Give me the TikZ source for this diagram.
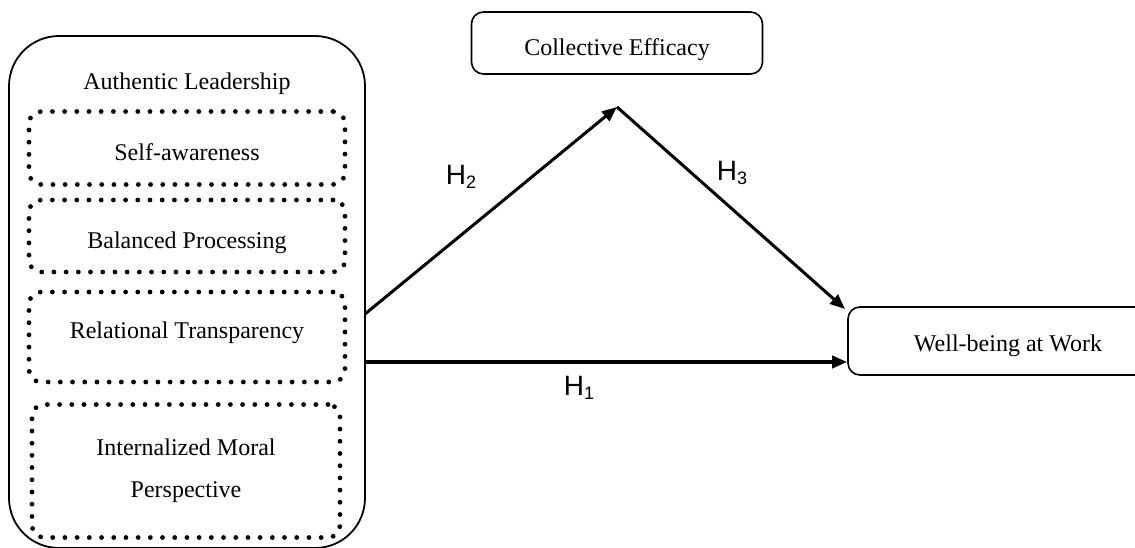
\documentclass[tikz,border=0pt]{standalone}
\usepackage{fontspec}
\setmainfont{Liberation Serif}
\newfontfamily\hfont{Liberation Sans}
\usetikzlibrary{arrows.meta}
\tikzset{
  txt/.style={font=\fontsize{24}{28}\selectfont, text height=30pt, text depth=6pt},
  solidbox/.style={draw, line width=1.6pt, rounded corners=12pt, txt},
  dotbox/.style={draw, line width=4.8pt, line cap=round, dash pattern=on 0pt off 12.2pt, rounded corners=12pt, txt},
  arr/.style={line width=3pt, -{Triangle[length=15pt,width=12pt]}},
  hlab/.style={font=\hfont\fontsize{28}{32}\selectfont, inner sep=0pt}
}
\newcommand{\hsub}[1]{H\raisebox{-4pt}{\fontsize{18}{18}\selectfont #1}}
\begin{document}
\begin{tikzpicture}[x=1pt,y=-1pt]
\useasboundingbox (0,0) rectangle (1135,547);
\begin{scope}
\clip (0,0) rectangle (1135,547);
% outer box
\node[draw, line width=1.8pt, rounded corners=50pt, minimum width=356pt, minimum height=512pt, inner sep=0pt] (al) at (187,292) {};
\node[font=\fontsize{24}{28}\selectfont, inner sep=0pt] (altitle) at (187,84) {Authentic Leadership};
% dimension boxes
\node[dotbox, minimum width=316pt, minimum height=73pt] (sa) at (187,148) {Self-awareness};
\node[dotbox, minimum width=316pt, minimum height=72pt] (bp) at (187,236) {Balanced Processing};
\node[dotbox, minimum width=316pt, minimum height=90pt, text height=12pt, text depth=10pt] (rt) at (187,337) {Relational Transparency};
\node[dotbox, minimum width=308pt, minimum height=133pt, align=center, text height=, text depth=] (imp) at (186,471) {Internalized Moral\\[14pt]Perspective};
% right boxes
\node[solidbox, minimum width=291pt, minimum height=62pt] (ce) at (617,43) {Collective Efficacy};
\node[solidbox, minimum width=320pt, minimum height=68pt, text height=26pt] (wb) at (1008,341) {Well-being at Work};
% connector ends
\coordinate (s2) at (365,314);
\coordinate (s1) at (365,362);
\coordinate (apex) at (617,107);
\coordinate (wbc) at (845,309);
\draw[arr] (s2) -- (apex);
\draw[arr] (apex) -- (wbc);
\draw[arr, line width=4pt] (s1) -- (wb.west |- s1);
% labels
\node[hlab] (h2) at (461,177) {\hsub{2}};
\node[hlab] (h3) at (732,173) {\hsub{3}};
\node[hlab] (h1) at (579,388) {\hsub{1}};
\end{scope}
\end{tikzpicture}
\end{document}
